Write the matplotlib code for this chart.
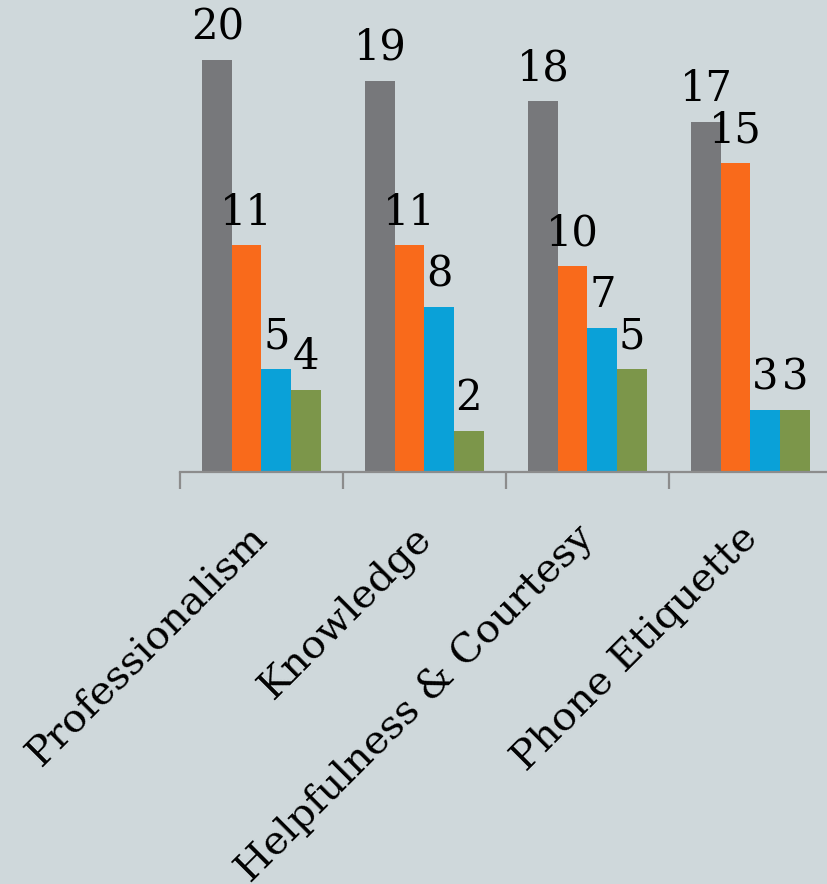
import numpy as np
import matplotlib
matplotlib.use("Agg")
import matplotlib.pyplot as plt
from matplotlib.ticker import FixedLocator, NullFormatter
from matplotlib.transforms import ScaledTranslation

categories = ["Professionalism", "Knowledge", "Helpfulness & Courtesy", "Phone Etiquette"]
series_gray = [20, 19, 18, 17]
series_orange = [11, 11, 10, 15]
series_blue = [5, 8, 7, 3]
series_green = [4, 2, 5, 3]

colors = ["#77787b", "#f96a1b", "#0aa1d8", "#7c964a"]
bg = "#cfd8db"

plt.rcParams["font.family"] = ["DejaVu Serif"]

fig = plt.figure(figsize=(8.28, 8.84), dpi=100, facecolor=bg)
ax = fig.add_axes([180 / 828, (884 - 472) / 884, 652 / 828, 412 / 884])
ax.set_facecolor(bg)

x = np.arange(len(categories)) + 0.5
w = 0.181
all_series = [series_gray, series_orange, series_blue, series_green]
for k, (vals, c) in enumerate(zip(all_series, colors)):
    pos = x + (k - 1.5) * w
    ax.bar(pos, vals, width=w, color=c, edgecolor="none", zorder=2)
    for px, v in zip(pos, vals):
        ax.annotate(str(v), (px, v), xytext=(0, 15), textcoords="offset points",
                    ha="center", va="baseline", fontsize=30, color="black",
                    zorder=3, annotation_clip=False)

ax.set_xlim(0, 4)
ax.set_ylim(0, 20)
ax.set_yticks([])
for s in ["left", "right", "top"]:
    ax.spines[s].set_visible(False)
ax.spines["bottom"].set_color("#8c8c8c")
ax.spines["bottom"].set_linewidth(1.6)

# category ticks sit between groups
ax.xaxis.set_major_locator(FixedLocator([0, 1, 2, 3, 4]))
ax.xaxis.set_major_formatter(NullFormatter())
ax.tick_params(axis="x", direction="out", length=12, width=1.6, color="#8c8c8c")

for xi, name in zip(x, categories):
    off = ScaledTranslation(14 / 100, -47 / 100, fig.dpi_scale_trans)
    ax.text(xi, 0, name, rotation=45, ha="right", va="top", fontsize=29,
            color="black", transform=ax.get_xaxis_transform() + off,
            clip_on=False)

fig.savefig("out.png", dpi=100, facecolor=bg)
